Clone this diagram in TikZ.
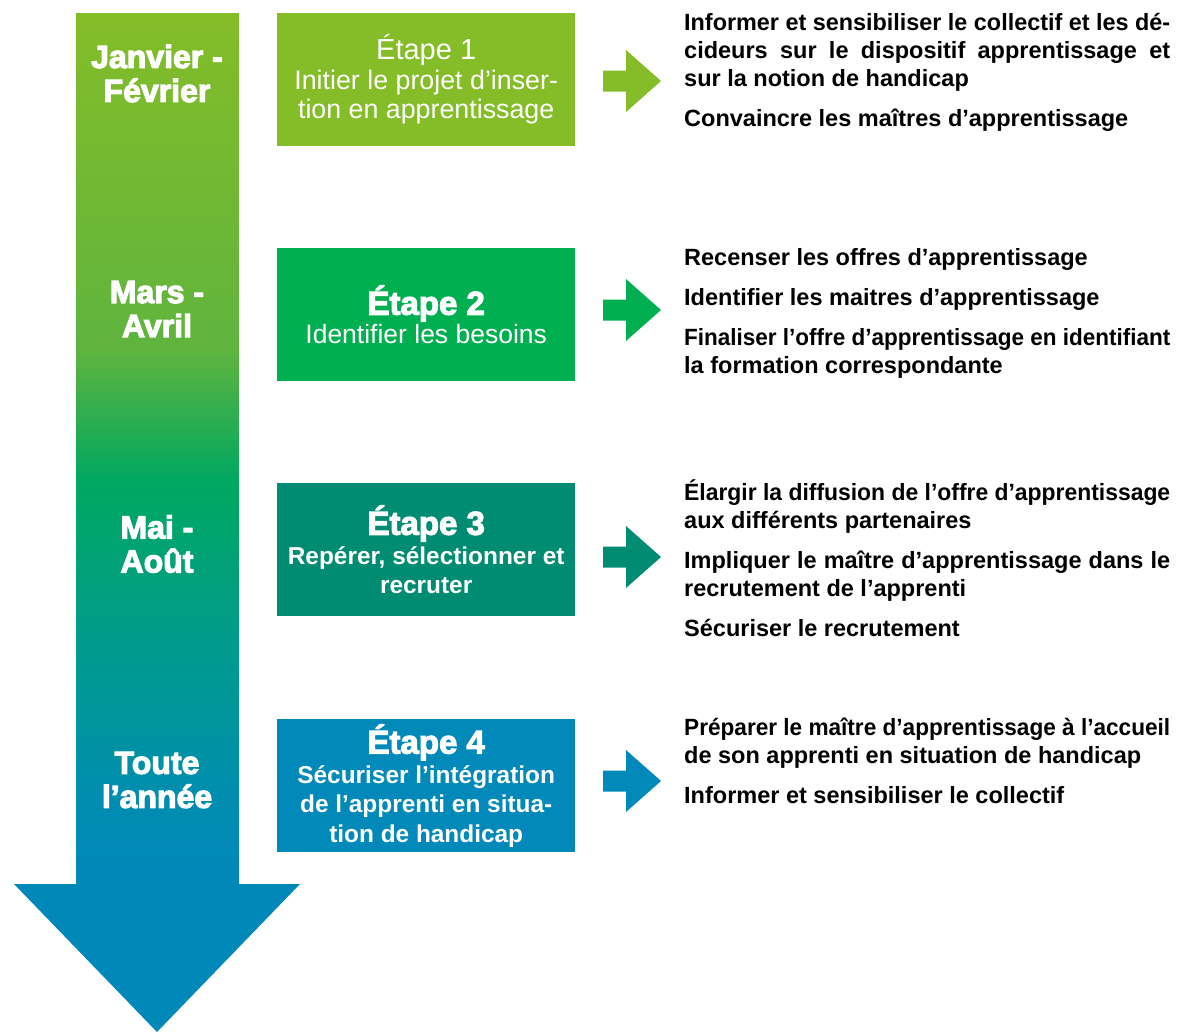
\documentclass[tikz,border=0pt]{standalone}
\usepackage{fontspec}
\setmainfont{Liberation Sans}
\definecolor{gA}{RGB}{132,189,40}
\definecolor{gB}{RGB}{0,176,80}
\definecolor{gC}{RGB}{0,140,114}
\definecolor{gD}{RGB}{0,137,185}
\definecolor{sT}{RGB}{132,189,40}
\definecolor{sM1}{RGB}{95,180,62}
\definecolor{sM2}{RGB}{0,168,96}
\definecolor{sM3}{RGB}{0,156,138}
\definecolor{sM4}{RGB}{0,141,176}
\definecolor{sB}{RGB}{0,136,185}
\pgfdeclareverticalshading{bigarrowshade}{100bp}{color(0bp)=(sB); color(25bp)=(sB); color(32.5bp)=(sB); color(36.4bp)=(sM4); color(44.5bp)=(sM3); color(52.1bp)=(sM2); color(58.5bp)=(sM1); color(75bp)=(sT); color(100bp)=(sT)}
\newcommand\jline[1]{\setbox0\hbox{#1}\ifdim\wd0>486pt \resizebox{486pt}{\height}{#1}\else\makebox[486pt][s]{#1}\fi}
\newcommand\heavy[1]{\special{pdf:literal direct 2 Tr 1.1 w}#1\special{pdf:literal direct 0 Tr}}
\begin{document}
\begin{tikzpicture}[x=1pt,y=-1pt,
  box/.style={minimum width=298pt, minimum height=133pt, inner sep=0pt, text=white, align=center, anchor=north west},
  period/.style={text=white, align=center, inner sep=0pt, font=\bfseries\fontsize{32}{34}\selectfont},
  rt/.style={anchor=base west, inner sep=0pt, font=\bfseries\fontsize{23.5}{28}\selectfont}]
\useasboundingbox (0,0) rectangle (1180,1034);
% big timeline arrow
\path[shading=bigarrowshade] (76,13) -- (239,13) -- (239,884) -- (300,884) -- (157,1032) -- (14,884) -- (76,884) -- cycle;
\node[period] (p1) at (157,73.5) {\heavy{Janvier -}\\\heavy{Février}};
\node[period] (p2) at (157,309) {\heavy{Mars -}\\\heavy{Avril}};
\node[period] (p3) at (157,544) {\heavy{Mai -}\\\heavy{Août}};
\node[period] (p4) at (157,780) {\heavy{Toute}\\\heavy{l’année}};
% boxes
\node[box, fill=gA, font=\fontsize{26.8}{29.5}\selectfont] (b1) at (277,13)
  {{\fontsize{29}{32}\selectfont Étape 1}\\Initier le projet d’inser-\\tion en apprentissage};
\node[box, fill=gB, font=\fontsize{26.5}{29}\selectfont] (b2) at (277,248)
  {{\bfseries\fontsize{33}{36}\selectfont \heavy{Étape 2}}\\Identifier les besoins};
\node[box, fill=gC, font=\bfseries\fontsize{24.4}{29.5}\selectfont] (b3) at (277,483)
  {{\fontsize{33}{36}\selectfont \heavy{Étape 3}}\\Repérer, sélectionner et\\recruter};
\node[box, fill=gD, font=\bfseries\fontsize{24.4}{29.5}\selectfont] (b4) at (277,719)
  {{\fontsize{33}{36}\selectfont \heavy{Étape 4}}\\Sécuriser l’intégration\\de l’apprenti en situa-\\tion de handicap};
% small arrows
\foreach \c/\col in {81/gA, 310/gB, 557/gC, 781/gD}{
  \fill[\col] (603,\c-10.5) -- (626,\c-10.5) -- (626,\c-31) -- (661,\c) -- (626,\c+31) -- (626,\c+10.5) -- (603,\c+10.5) -- cycle;
}
% right texts
\node[rt] (t1a) at (684,30) {\jline{Informer et sensibiliser le collectif et les dé-}};
\node[rt] (t1b) at (684,58) {\jline{cideurs sur le dispositif apprentissage et}};
\node[rt] (t1c) at (684,86) {sur la notion de handicap};
\node[rt] (t1d) at (684,126) {Convaincre les maîtres d’apprentissage};
\node[rt] (t2a) at (684,265) {Recenser les offres d’apprentissage};
\node[rt] (t2b) at (684,305) {Identifier les maitres d’apprentissage};
\node[rt] (t2c) at (684,345) {\jline{Finaliser l’offre d’apprentissage en identifiant}};
\node[rt] (t2d) at (684,373) {la formation correspondante};
\node[rt] (t3a) at (684,500) {\jline{Élargir la diffusion de l’offre d’apprentissage}};
\node[rt] (t3b) at (684,528) {aux différents partenaires};
\node[rt] (t3c) at (684,568) {\jline{Impliquer le maître d’apprentissage dans le}};
\node[rt] (t3d) at (684,596) {recrutement de l’apprenti};
\node[rt] (t3e) at (684,636) {Sécuriser le recrutement};
\node[rt] (t4a) at (684,735) {\jline{Préparer le maître d’apprentissage à l’accueil}};
\node[rt] (t4b) at (684,763) {de son apprenti en situation de handicap};
\node[rt] (t4c) at (684,803) {Informer et sensibiliser le collectif};
\end{tikzpicture}
\end{document}
